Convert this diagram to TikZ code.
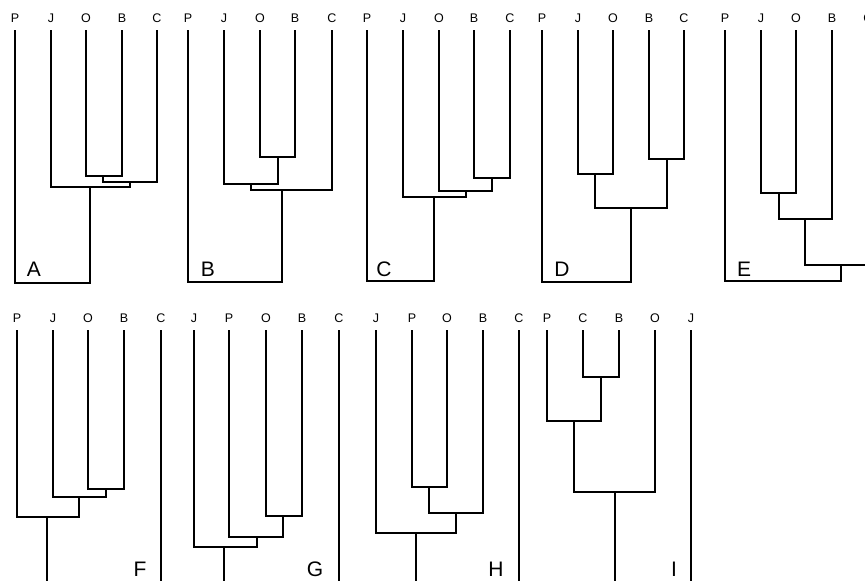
\documentclass[tikz,border=0pt]{standalone}
\usepackage{fontspec}
\setmainfont{Liberation Sans}
\tikzset{
    branch/.style={line width=1.8pt, black},
    tip label/.style={font=\fontsize{12.5}{13}\selectfont, anchor=base, inner sep=0pt, outer xsep=0pt, outer ysep=8pt, text depth=0pt},
    panel label/.style={font=\fontsize{21}{24}\selectfont, anchor=base, inner sep=0pt},
}
\begin{document}
\begin{tikzpicture}[x=1pt, y=-1pt]
    \useasboundingbox (0,0) rectangle (865,581);
    \clip (0,0) rectangle (865,581);

    % A
    \node[tip label] (aP) at (15,22) {P};
    \node[tip label] (aJ) at (51,22) {J};
    \node[tip label] (aO) at (86,22) {O};
    \node[tip label] (aB) at (122,22) {B};
    \node[tip label] (aC) at (157,22) {C};
    \coordinate (aOB) at (103,176);
    \coordinate (aOBC) at (130,182);
    \coordinate (aJOBC) at (90,187);
    \coordinate (aRoot) at (90,283);
    \node[panel label] (aName) at (34,276) {A};
    \draw[branch] (aO.south) |- (aOB) -| (aB.south);
    \draw[branch] (aOB) |- (aOBC) -| (aC.south);
    \draw[branch] (aOBC) |- (aJOBC) -| (aJ.south);
    \draw[branch] (aJOBC) |- (aRoot) -| (aP.south);

    % B
    \node[tip label] (bP) at (188,22) {P};
    \node[tip label] (bJ) at (224,22) {J};
    \node[tip label] (bO) at (260,22) {O};
    \node[tip label] (bB) at (295,22) {B};
    \node[tip label] (bC) at (332,22) {C};
    \coordinate (bOB) at (278,157);
    \coordinate (bJOB) at (251,184);
    \coordinate (bJOBC) at (282,190);
    \coordinate (bRoot) at (282,282);
    \node[panel label] (bName) at (208,276) {B};
    \draw[branch] (bO.south) |- (bOB) -| (bB.south);
    \draw[branch] (bOB) |- (bJOB) -| (bJ.south);
    \draw[branch] (bJOB) |- (bJOBC) -| (bC.south);
    \draw[branch] (bJOBC) |- (bRoot) -| (bP.south);

    % C
    \node[tip label] (cP) at (367,22) {P};
    \node[tip label] (cJ) at (403,22) {J};
    \node[tip label] (cO) at (439,22) {O};
    \node[tip label] (cB) at (474,22) {B};
    \node[tip label] (cC) at (510,22) {C};
    \coordinate (cBC) at (492,178);
    \coordinate (cOBC) at (466,191);
    \coordinate (cJOBC) at (434,197);
    \coordinate (cRoot) at (434,281);
    \node[panel label] (cName) at (384,276) {C};
    \draw[branch] (cB.south) |- (cBC) -| (cC.south);
    \draw[branch] (cBC) |- (cOBC) -| (cO.south);
    \draw[branch] (cOBC) |- (cJOBC) -| (cJ.south);
    \draw[branch] (cJOBC) |- (cRoot) -| (cP.south);

    % D
    \node[tip label] (dP) at (542,22) {P};
    \node[tip label] (dJ) at (578,22) {J};
    \node[tip label] (dO) at (613,22) {O};
    \node[tip label] (dB) at (649,22) {B};
    \node[tip label] (dC) at (684,22) {C};
    \coordinate (dJO) at (595,174);
    \coordinate (dBC) at (667,159);
    \coordinate (dJOBC) at (631,208);
    \coordinate (dRoot) at (631,282);
    \node[panel label] (dName) at (562,276) {D};
    \draw[branch] (dJ.south) |- (dJO) -| (dO.south);
    \draw[branch] (dB.south) |- (dBC) -| (dC.south);
    \draw[branch] (dJO) |- (dJOBC) -| (dBC);
    \draw[branch] (dJOBC) |- (dRoot) -| (dP.south);

    % E
    \node[tip label] (eP) at (725,22) {P};
    \node[tip label] (eJ) at (761,22) {J};
    \node[tip label] (eO) at (796,22) {O};
    \node[tip label] (eB) at (832,22) {B};
    \node[tip label] (eC) at (868,22) {C};
    \coordinate (eJO) at (779,193);
    \coordinate (eJOB) at (805,219);
    \coordinate (eJOBC) at (841,265);
    \coordinate (eRoot) at (841,281);
    \node[panel label] (eName) at (744,276) {E};
    \draw[branch] (eJ.south) |- (eJO) -| (eO.south);
    \draw[branch] (eJO) |- (eJOB) -| (eB.south);
    \draw[branch] (eJOB) |- (eJOBC) -| (eC.south);
    \draw[branch] (eJOBC) |- (eRoot) -| (eP.south);

    % F
    \node[tip label] (fP) at (17,322) {P};
    \node[tip label] (fJ) at (53,322) {J};
    \node[tip label] (fO) at (88,322) {O};
    \node[tip label] (fB) at (124,322) {B};
    \node[tip label] (fC) at (161,322) {C};
    \coordinate (fOB) at (106,489);
    \coordinate (fJOB) at (79,497);
    \coordinate (fPJOB) at (47,517);
    \coordinate (fBase) at (47,590);
    \coordinate (fCBase) at (161,590);
    \node[panel label] (fName) at (140,576) {F};
    \draw[branch] (fO.south) |- (fOB) -| (fB.south);
    \draw[branch] (fOB) |- (fJOB) -| (fJ.south);
    \draw[branch] (fJOB) |- (fPJOB) -| (fP.south);
    \draw[branch] (fPJOB) -- (fBase);
    \draw[branch] (fC.south) -- (fCBase);

    % G
    \node[tip label] (gJ) at (194,322) {J};
    \node[tip label] (gP) at (229,322) {P};
    \node[tip label] (gO) at (266,322) {O};
    \node[tip label] (gB) at (302,322) {B};
    \node[tip label] (gC) at (339,322) {C};
    \coordinate (gOB) at (283,516);
    \coordinate (gPOB) at (257,537);
    \coordinate (gJPOB) at (224,547);
    \coordinate (gBase) at (224,590);
    \coordinate (gCBase) at (339,590);
    \node[panel label] (gName) at (315,576) {G};
    \draw[branch] (gO.south) |- (gOB) -| (gB.south);
    \draw[branch] (gOB) |- (gPOB) -| (gP.south);
    \draw[branch] (gPOB) |- (gJPOB) -| (gJ.south);
    \draw[branch] (gJPOB) -- (gBase);
    \draw[branch] (gC.south) -- (gCBase);

    % H
    \node[tip label] (hJ) at (376,322) {J};
    \node[tip label] (hP) at (412,322) {P};
    \node[tip label] (hO) at (447,322) {O};
    \node[tip label] (hB) at (483,322) {B};
    \node[tip label] (hC) at (519,322) {C};
    \coordinate (hPO) at (429,487);
    \coordinate (hPOB) at (456,513);
    \coordinate (hJPOB) at (416,533);
    \coordinate (hBase) at (416,590);
    \coordinate (hCBase) at (519,590);
    \node[panel label] (hName) at (496,576) {H};
    \draw[branch] (hP.south) |- (hPO) -| (hO.south);
    \draw[branch] (hPO) |- (hPOB) -| (hB.south);
    \draw[branch] (hPOB) |- (hJPOB) -| (hJ.south);
    \draw[branch] (hJPOB) -- (hBase);
    \draw[branch] (hC.south) -- (hCBase);

    % I
    \node[tip label] (iP) at (547,322) {P};
    \node[tip label] (iC) at (583,322) {C};
    \node[tip label] (iB) at (619,322) {B};
    \node[tip label] (iO) at (655,322) {O};
    \node[tip label] (iJ) at (691,322) {J};
    \coordinate (iCB) at (601,377);
    \coordinate (iPCB) at (574,421);
    \coordinate (iPCBO) at (615,492);
    \coordinate (iBase) at (615,590);
    \coordinate (iJBase) at (691,590);
    \node[panel label] (iName) at (674,576) {I};
    \draw[branch] (iC.south) |- (iCB) -| (iB.south);
    \draw[branch] (iCB) |- (iPCB) -| (iP.south);
    \draw[branch] (iPCB) |- (iPCBO) -| (iO.south);
    \draw[branch] (iPCBO) -- (iBase);
    \draw[branch] (iJ.south) -- (iJBase);
\end{tikzpicture}
\end{document}
